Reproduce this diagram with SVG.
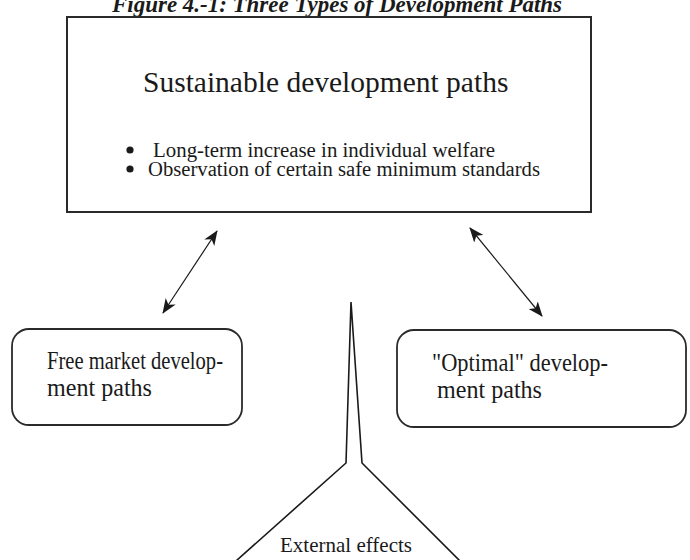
<svg xmlns="http://www.w3.org/2000/svg" width="690" height="560" viewBox="0 0 690 560">
<defs>
<marker id="ah" markerWidth="15" markerHeight="12" refX="14" refY="6" orient="auto-start-reverse" markerUnits="userSpaceOnUse" viewBox="0 0 15 12">
<path d="M0,0 L15,6 L0,12 L4,6 Z" fill="#1a1a1a"/>
</marker>
<style>
.t{font-family:"Liberation Serif","Times New Roman",serif;fill:#1a1a1a}
.box{fill:#fff;stroke:#2a2a2a;stroke-width:2}
.rbox{fill:#fff;stroke:#2a2a2a;stroke-width:1.8}
.conn{stroke:#1a1a1a;stroke-width:1.2;fill:none}
.spike{stroke:#1a1a1a;stroke-width:1.6;fill:none;stroke-linejoin:miter}
</style>
</defs>
<rect width="690" height="560" fill="#fff"/>
<text class="t" x="337" y="12" text-anchor="middle" font-size="23" font-weight="bold" font-style="italic" textLength="450" lengthAdjust="spacingAndGlyphs">Figure 4.-1: Three Types of Development Paths</text>
<g id="sustainable">
<rect class="box" x="67" y="17" width="524" height="195"/>
<text class="t" x="143" y="92" font-size="29.5">Sustainable development paths</text>
<circle cx="130" cy="150" r="3.6" fill="#1a1a1a"/>
<circle cx="130" cy="169" r="3.6" fill="#1a1a1a"/>
<text class="t" x="153" y="157" font-size="20" textLength="342" lengthAdjust="spacingAndGlyphs">Long-term increase in individual welfare</text>
<text class="t" x="148" y="176" font-size="20" textLength="392" lengthAdjust="spacingAndGlyphs">Observation of certain safe minimum standards</text>
</g>
<g id="freemarket">
<rect class="rbox" x="12" y="329" width="230" height="96" rx="17"/>
<text class="t" x="47" y="369" font-size="26" textLength="176" lengthAdjust="spacingAndGlyphs">Free market develop-</text>
<text class="t" x="47" y="396" font-size="26" textLength="105" lengthAdjust="spacingAndGlyphs">ment paths</text>
</g>
<g id="optimal">
<rect class="rbox" x="397" y="330" width="289" height="97" rx="17"/>
<text class="t" x="432" y="371" font-size="26" textLength="176" lengthAdjust="spacingAndGlyphs">"Optimal" develop-</text>
<text class="t" x="437" y="398" font-size="26" textLength="105" lengthAdjust="spacingAndGlyphs">ment paths</text>
</g>
<g id="external">
<path class="spike" d="M236,561 L346,463 L351,302 L362,463 L460,561"/>
<text class="t" x="346" y="552" font-size="21" text-anchor="middle">External effects</text>
</g>
<g id="connectors">
<line class="conn" x1="217" y1="231" x2="163" y2="313" marker-start="url(#ah)" marker-end="url(#ah)"/>
<line class="conn" x1="470" y1="228" x2="542" y2="316" marker-start="url(#ah)" marker-end="url(#ah)"/>
</g>
</svg>
